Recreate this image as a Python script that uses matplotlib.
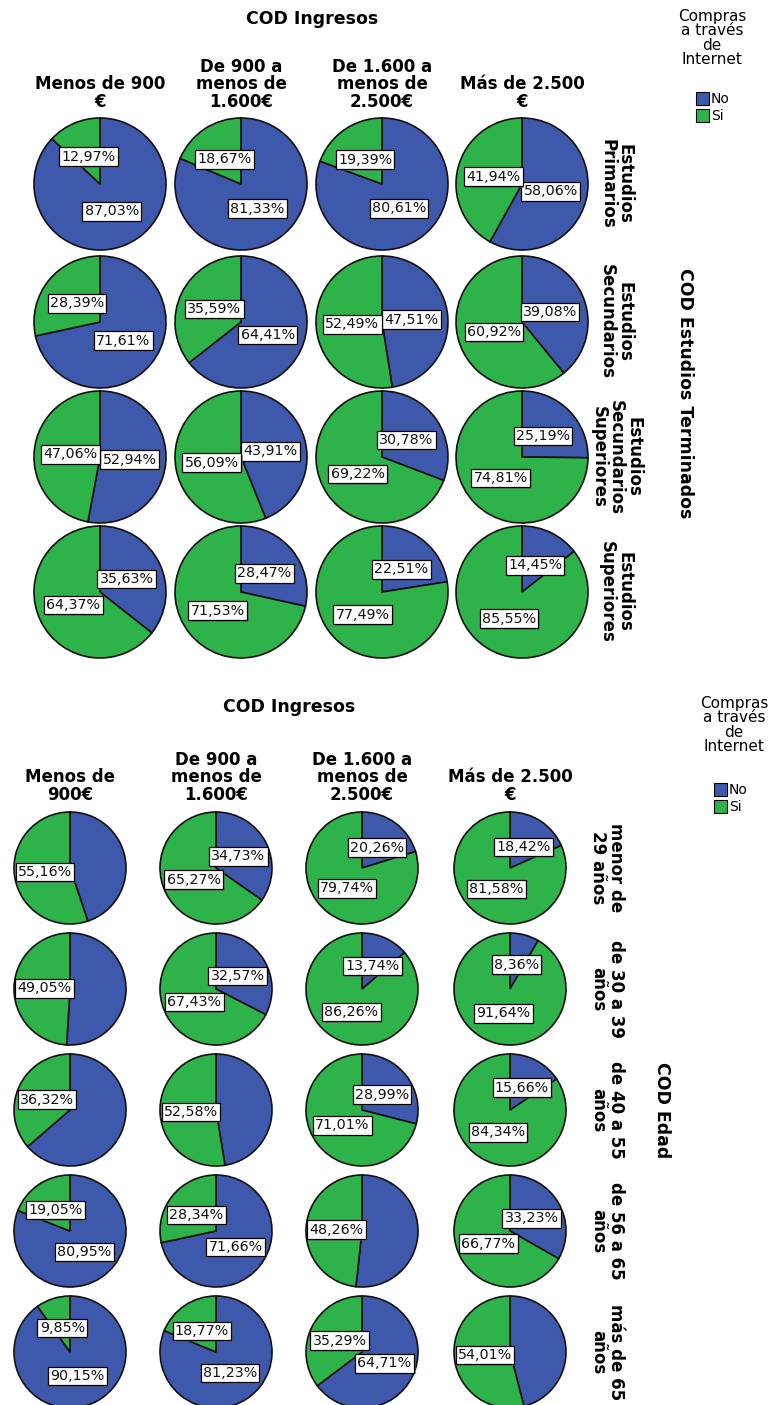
import numpy as np
import matplotlib
matplotlib.use("Agg")
import matplotlib.pyplot as plt
import matplotlib.patheffects as pe
from matplotlib.patches import Rectangle

# ---- data ----
ingresos = ["Menos de 900\n€", "De 900 a\nmenos de\n1.600€", "De 1.600 a\nmenos de\n2.500€", "Más de 2.500\n€"]
ingresos2 = ["Menos de\n900€", "De 900 a\nmenos de\n1.600€", "De 1.600 a\nmenos de\n2.500€", "Más de 2.500\n€"]

estudios = ["Estudios\nPrimarios", "Estudios\nSecundarios", "Estudios\nSecundarios\nSuperiores", "Estudios\nSuperiores"]
est_no = [[87.03, 81.33, 80.61, 58.06],
          [71.61, 64.41, 47.51, 39.08],
          [52.94, 43.91, 30.78, 25.19],
          [35.63, 28.47, 22.51, 14.45]]
est_si = [[12.97, 18.67, 19.39, 41.94],
          [28.39, 35.59, 52.49, 60.92],
          [47.06, 56.09, 69.22, 74.81],
          [64.37, 71.53, 77.49, 85.55]]

edades = ["menor de\n29 años", "de 30 a 39\naños", "de 40 a 55\naños", "de 56 a 65\naños", "más de 65\naños"]
edad_no = [[44.84, 34.73, 20.26, 18.42],
           [50.95, 32.57, 13.74, 8.36],
           [63.68, 47.42, 28.99, 15.66],
           [80.95, 71.66, 51.74, 33.23],
           [90.15, 81.23, 64.71, 45.99]]
edad_si = [[55.16, 65.27, 79.74, 81.58],
           [49.05, 67.43, 86.26, 91.64],
           [36.32, 52.58, 71.01, 84.34],
           [19.05, 28.34, 48.26, 66.77],
           [9.85, 18.77, 35.29, 54.01]]
# No-label shown in the bottom chart?
edad_show_no = [[False, True, True, True],
                [False, True, True, True],
                [False, False, True, True],
                [True, True, False, True],
                [True, True, True, False]]

legend_labels = ["No", "Si"]
colors = ["#3E58AC", "#2EB34A"]

W, H = 771, 1405
fig = plt.figure(figsize=(W / 100, H / 100), dpi=100)


def px(x, y):
    return x / W, 1 - y / H


def fmt(v):
    return ("%.2f%%" % v).replace(".", ",")


def draw_pie(cx, cy, r, vals, show):
    pad = 1.04
    x0, y0 = px(cx - r * pad, cy + r * pad)
    ax = fig.add_axes([x0, y0, 2 * r * pad / W, 2 * r * pad / H])
    wedges, _ = ax.pie(vals, colors=colors, startangle=90, counterclock=False,
                       wedgeprops=dict(edgecolor="#111111", linewidth=1.2))
    ax.set_xlim(-pad, pad)
    ax.set_ylim(-pad, pad)
    ax.set_aspect("equal")
    ax.axis("off")
    for w, v, s in zip(wedges, vals, show):
        if not s:
            continue
        mid = np.deg2rad((w.theta1 + w.theta2) / 2)
        d = 0.45
        t = ax.text(d * np.cos(mid), d * np.sin(mid), fmt(v), ha="center", va="center",
                    fontsize=10.3, color="#111111",
                    bbox=dict(boxstyle="square,pad=0.16", fc="white", ec="black", lw=0.9))
        t.get_bbox_patch().set_path_effects(
            [pe.withSimplePatchShadow(offset=(1.2, -1.2), shadow_rgbFace="0.4", alpha=0.5)])


def legend(cx, ty, px_x, py0):
    fig.text(*px(cx, ty), "Compras\na través\nde\nInternet", ha="center", va="top",
             fontsize=11, linespacing=0.95)
    for i, (lab, c) in enumerate(zip(legend_labels, colors)):
        y = py0 + i * 17
        x0, y0 = px(px_x, y + 13)
        fig.patches.append(Rectangle((x0, y0), 13 / W, 13 / H, transform=fig.transFigure,
                                     fc=c, ec="black", lw=0.8))
        fig.text(*px(px_x + 15, y + 7), lab, ha="left", va="center", fontsize=10)


# ---- top chart: estudios ----
top_cx = [100, 241, 382, 522]
top_cy = [184, 322, 457, 592]
fig.text(*px(312, 19), "COD Ingresos", ha="center", va="center", fontsize=12.5, weight="bold")
for j, lab in enumerate(ingresos):
    fig.text(*px(top_cx[j], 111), lab, ha="center", va="bottom", fontsize=12,
             weight="bold", linespacing=0.98)
for i, lab in enumerate(estudios):
    fig.text(*px(616, top_cy[i]), lab, ha="center", va="center", rotation=-90,
             fontsize=12, weight="bold", linespacing=0.98)
    for j in range(4):
        draw_pie(top_cx[j], top_cy[i], 66, [est_no[i][j], est_si[i][j]], [True, True])
fig.text(*px(685, 393), "COD Estudios Terminados", ha="center", va="center", rotation=-90,
         fontsize=12.5, weight="bold")
legend(712, 9, 696, 92)

# ---- bottom chart: edad ----
bot_cx = [70, 216, 362, 510]
bot_cy = [868, 989, 1110, 1231, 1352]
fig.text(*px(289, 707), "COD Ingresos", ha="center", va="center", fontsize=12.5, weight="bold")
for j, lab in enumerate(ingresos2):
    fig.text(*px(bot_cx[j], 804), lab, ha="center", va="bottom", fontsize=12,
             weight="bold", linespacing=0.98)
for i, lab in enumerate(edades):
    fig.text(*px(607, bot_cy[i]), lab, ha="center", va="center", rotation=-90,
             fontsize=12, weight="bold", linespacing=0.98)
    for j in range(4):
        draw_pie(bot_cx[j], bot_cy[i], 56, [edad_no[i][j], edad_si[i][j]],
                 [edad_show_no[i][j], True])
fig.text(*px(662, 1110), "COD Edad", ha="center", va="center", rotation=-90,
         fontsize=12.5, weight="bold")
legend(734, 696, 714, 783)

fig.savefig("out.png", dpi=100, facecolor="white")
